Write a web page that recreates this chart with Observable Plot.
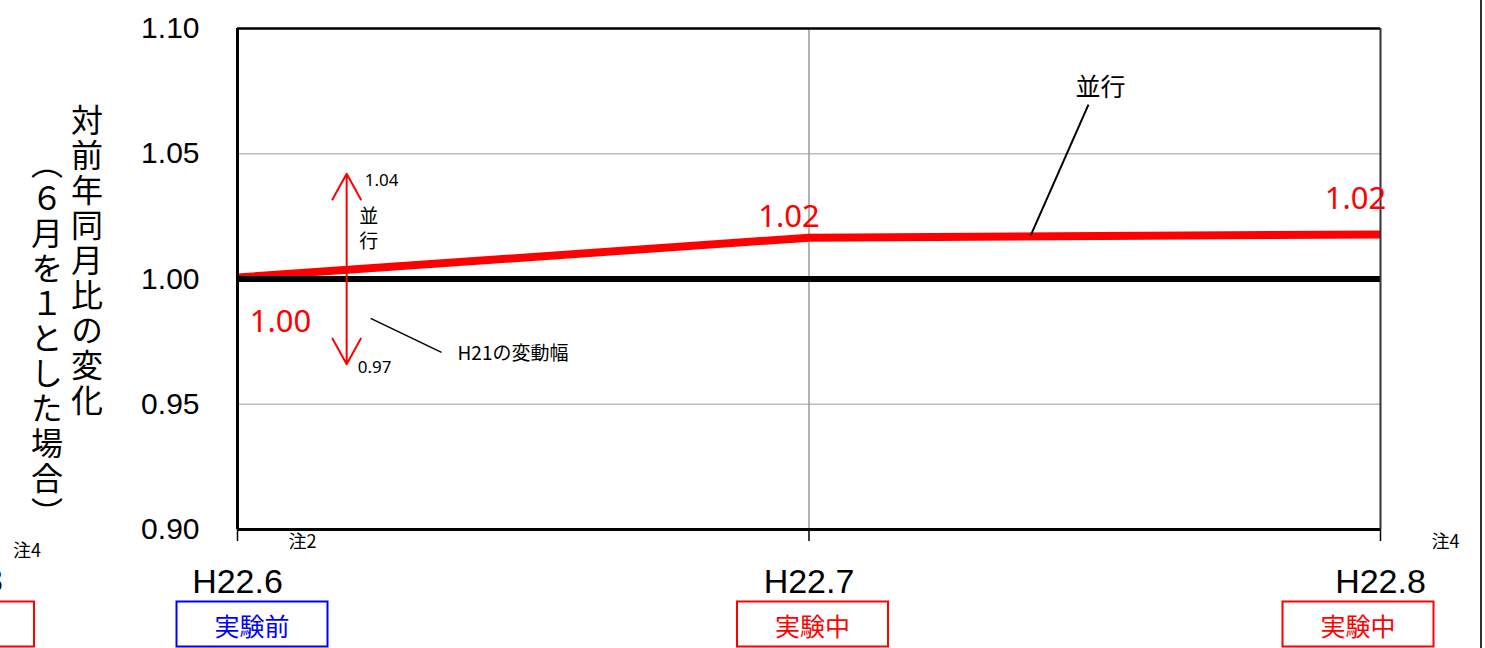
<!DOCTYPE html>
<html><head><meta charset="utf-8">
<script src="https://cdn.jsdelivr.net/npm/d3@7"></script>
<script src="https://cdn.jsdelivr.net/npm/@observablehq/plot@0.6"></script>
<style>html,body{margin:0;padding:0;background:#fff;overflow:hidden}</style>
</head><body><div id="chart"></div>
<script>
// ---- data ----
const months = ["H22.6", "H22.7", "H22.8"];
const heikou = [1.0006, 1.0165, 1.0178];   // 並行 series
const baseline = [1.00];
const yTicks = [0.90, 0.95, 1.00, 1.05, 1.10];
const gridY = [0.95, 1.05];
const phases = ["実験前", "実験中", "実験中"];
const phaseColors = ["#0000ff", "#ff0000", "#ff0000"];
const notes = ["注2", "", "注4"];
const h21Range = [0.966, 1.042];           // H21の変動幅 (0.97 – 1.04)
const seriesName = "並行";
const rangeName = "H21の変動幅";
const yTitle1 = "対前年同月比の変化";
const yTitle2 = "（６月を１とした場合）";
const prevPanel = { label: "3", note: "注4" }; // fragment of neighbouring panel

const idx = months.map((m, i) => i);
const fmt = d3.format(".2f");
const CJK = "'Noto Sans CJK JP', 'Noto Sans', sans-serif";
const LAT = "'Liberation Sans', Arial, sans-serif";
const LBL = "'Noto Sans', 'Noto Sans CJK JP', sans-serif";

function decor(index, scales, values, dims) {
  const x = scales.x;
  const g = d3.create("svg:g");
  const bottom = dims.height - dims.marginBottom;
  const shifts = [15, 4, -22];
  phases.forEach((p, i) => {
    const cx = x(i) + shifts[i];
    g.append("rect").attr("x", cx - 75.5).attr("y", bottom + 72.5).attr("width", 151).attr("height", 45)
      .attr("fill", "none").attr("stroke", phaseColors[i]).attr("stroke-width", 2);
    g.append("text").attr("x", cx).attr("y", bottom + 96).attr("text-anchor", "middle")
      .attr("dominant-baseline", "central").attr("fill", phaseColors[i])
      .attr("font-family", CJK).attr("font-size", 25).text(p);
  });
  // neighbouring panel fragments (clipped at the left edge)
  const x0 = x(0);
  g.append("rect").attr("x", x0 - 360).attr("y", bottom + 72.5).attr("width", 157).attr("height", 45)
    .attr("fill", "none").attr("stroke", "#ff0000").attr("stroke-width", 2);
  g.append("text").attr("x", x0 - 234).attr("y", bottom + 51).attr("text-anchor", "end")
    .attr("dominant-baseline", "central").attr("font-family", LAT).attr("font-size", 34).text(prevPanel.label);
  g.append("text").attr("x", x0 - 210).attr("y", bottom + 20).attr("text-anchor", "middle")
    .attr("dominant-baseline", "central").attr("font-family", CJK).attr("font-size", 18).text(prevPanel.note);
  // y-axis title, vertical writing
  const midY = (dims.marginTop + bottom) / 2;
  [[yTitle1, x0 - 150, midY - 17], [yTitle2, x0 - 190, midY + 61]].forEach(([t, tx, ty]) => {
    g.append("text").attr("x", tx).attr("y", ty).attr("text-anchor", "middle")
      .style("writing-mode", "vertical-rl").style("letter-spacing", "3px")
      .attr("font-family", CJK).attr("font-size", 32).attr("fill", "#000").text(t);
  });
  // outer border on the right
  g.append("line").attr("x1", dims.width - 4).attr("x2", dims.width - 4).attr("y1", 0).attr("y2", dims.height)
    .attr("stroke", "#333").attr("stroke-width", 2);
  return g.node();
}

const chart = Plot.plot({
  width: 1485,
  height: 648,
  marginLeft: 237,
  marginRight: 105,
  marginTop: 28,
  marginBottom: 119,
  style: { fontFamily: LAT, background: "#fff", color: "#000" },
  x: { domain: [0, 2] },
  y: { domain: [0.9, 1.1] },
  marks: [
    Plot.ruleY(gridY, { stroke: "#bdbdbd", strokeWidth: 1.5 }),
    Plot.ruleX([1], { stroke: "#9a9a9a", strokeWidth: 1.5 }),
    Plot.axisY({ ticks: yTicks, tickFormat: ".2f", tickSize: 0, tickPadding: 38, fontSize: 30, fontFamily: LAT }),
    Plot.axisX({ ticks: idx, tickFormat: i => months[i], tickSize: 12, tickPadding: 27, fontSize: 34, fontFamily: LAT, strokeWidth: 1.5 }),
    Plot.line(idx, { x: i => i, y: i => heikou[i], stroke: "#ff0000", strokeWidth: 8, strokeLinecap: "butt", strokeLinejoin: "round" }),
    Plot.ruleY(baseline, { stroke: "#000", strokeWidth: 6 }),
    Plot.ruleY([1.1], { stroke: "#000", strokeWidth: 2.5 }),
    Plot.ruleY([0.9], { stroke: "#000", strokeWidth: 3 }),
    Plot.ruleX([0], { stroke: "#000", strokeWidth: 3 }),
    Plot.ruleX([2], { stroke: "#333", strokeWidth: 2 }),
    // value labels
    Plot.text([0], { x: i => i, y: i => heikou[i], text: i => fmt(heikou[i]), dx: 43, dy: 45, fill: "#ff0000", fontSize: 31, fontFamily: LBL }),
    Plot.text([1], { x: i => i, y: i => heikou[i], text: i => fmt(heikou[i]), dx: -20, dy: -21, fill: "#ff0000", fontSize: 31, fontFamily: LBL }),
    Plot.text([2], { x: i => i, y: i => heikou[i], text: i => fmt(heikou[i]), dx: -25, dy: -35, fill: "#ff0000", fontSize: 31, fontFamily: LBL }),
    // H21 range arrow
    Plot.arrow(h21Range, { x1: () => 0.191, x2: () => 0.191, y1: () => 1.004, y2: d => d, stroke: "#ff0000", strokeWidth: 2, headLength: 22, headAngle: 58 }),
    Plot.text([h21Range[1]], { x: () => 0.191, y: d => d, text: d => fmt(d), dx: 18, dy: 7, textAnchor: "start", fontSize: 17, fontFamily: LBL }),
    Plot.text([h21Range[0]], { x: () => 0.191, y: d => d, text: d => fmt(d), dx: 11, dy: 3, textAnchor: "start", fontSize: 17, fontFamily: LBL }),
    Plot.text([seriesName], { x: () => 0.191, y: () => 1.0204, text: d => Array.from(d).join("\n"), dx: 22, fontSize: 19, lineHeight: 1.3, fontFamily: CJK }),
    Plot.link([0], { x1: () => 0.233, y1: () => 0.9843, x2: () => 0.357, y2: () => 0.9707, stroke: "#000", strokeWidth: 1.5 }),
    Plot.text([rangeName], { x: () => 0.385, y: () => 0.970, text: d => d, textAnchor: "start", fontSize: 19, fontFamily: CJK }),
    // series label with leader
    Plot.text([seriesName], { x: () => 1.510, y: () => 1.0764, text: d => d, fontSize: 25, fontFamily: CJK }),
    Plot.link([0], { x1: () => 1.489, y1: () => 1.0696, x2: () => 1.388, y2: () => 1.0174, stroke: "#000", strokeWidth: 2 }),
    // notes under axis
    Plot.text(idx.filter(i => notes[i]), { x: i => i, text: i => notes[i], frameAnchor: "bottom", dx: 65, dy: 18, fontSize: 18, fontFamily: CJK }),
    decor
  ]
});
document.getElementById("chart").appendChild(chart);
</script>
</body></html>
